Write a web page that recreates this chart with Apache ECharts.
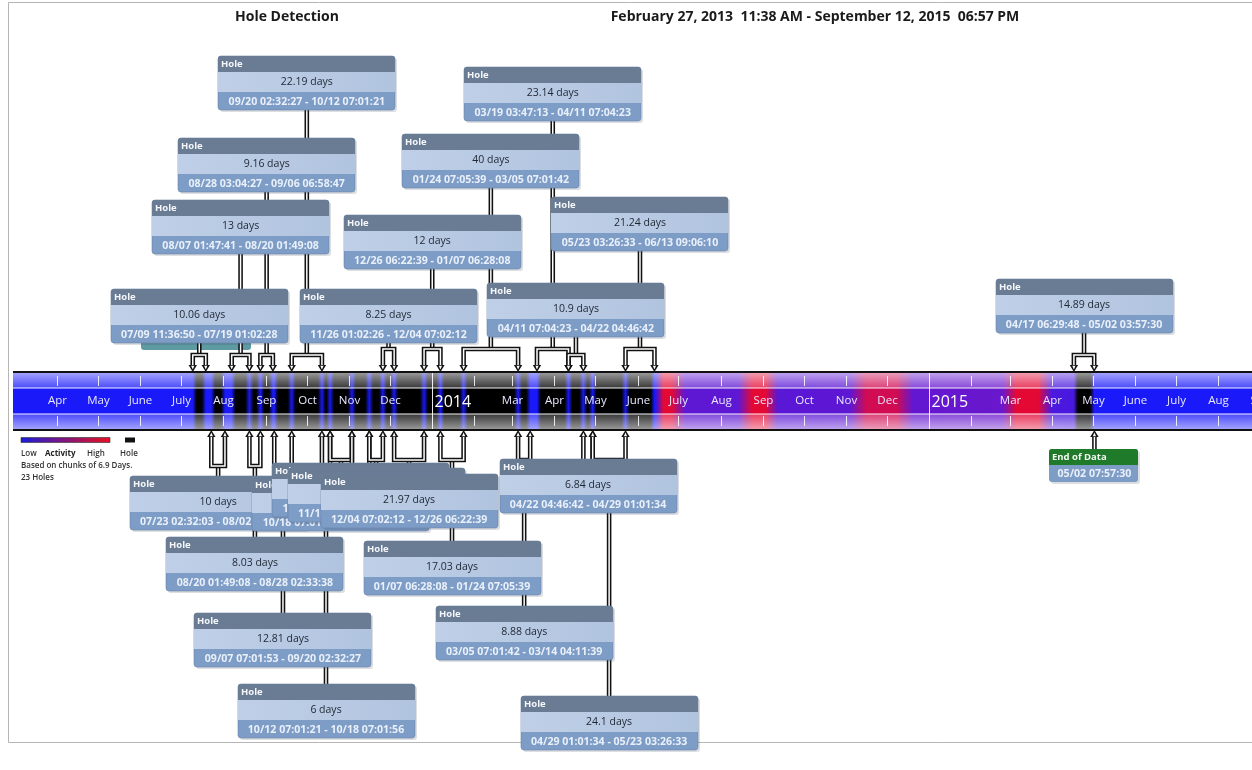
<!DOCTYPE html>
<html>
<head>
<meta charset="utf-8">
<script src="https://cdn.jsdelivr.net/npm/echarts@6/dist/echarts.min.js"></script>
<style>
  html, body { margin: 0; padding: 0; background: #fff; }
  #chart { width: 1252px; height: 770px; }
</style>
</head>
<body>
<div id="chart"></div>
<script>
// ---- data ----
var holeStart = [
  '2013-07-09 11:36:50', '2013-07-23 02:32:03', '2013-08-07 01:47:41', '2013-08-20 01:49:08',
  '2013-08-28 03:04:27', '2013-09-07 07:01:53', '2013-09-20 02:32:27', '2013-10-12 07:01:21',
  '2013-10-18 07:01:56', '2013-11-03 07:02:03', '2013-11-16 01:14:52', '2013-11-26 01:02:26',
  '2013-12-04 07:02:12', '2013-12-26 06:22:39', '2014-01-07 06:28:08', '2014-01-24 07:05:39',
  '2014-03-05 07:01:42', '2014-03-19 03:47:13', '2014-04-11 07:04:23', '2014-04-22 04:46:42',
  '2014-04-29 01:01:34', '2014-05-23 03:26:33', '2015-04-17 06:29:48'
];
var holeEnd = [
  '2013-07-19 01:02:28', '2013-08-02 02:32:03', '2013-08-20 01:49:08', '2013-08-28 02:33:38',
  '2013-09-06 06:58:47', '2013-09-20 02:32:27', '2013-10-12 07:01:21', '2013-10-18 07:01:56',
  '2013-11-03 07:02:03', '2013-11-16 01:14:52', '2013-11-26 01:02:26', '2013-12-04 07:02:12',
  '2013-12-26 06:22:39', '2014-01-07 06:28:08', '2014-01-24 07:05:39', '2014-03-05 07:01:42',
  '2014-03-14 04:11:39', '2014-04-11 07:04:23', '2014-04-22 04:46:42', '2014-04-29 01:01:34',
  '2014-05-23 03:26:33', '2014-06-13 09:06:10', '2015-05-02 03:57:30'
];
var holeDays = [
  '10.06', '10', '13', '8.03', '9.16', '12.81', '22.19', '6',
  '16', '12.76', '9.99', '8.25', '21.97', '12', '17.03', '40',
  '8.88', '23.14', '10.9', '6.84', '24.1', '21.24', '14.89'
];
var holeSide = [
  'up', 'down', 'up', 'down', 'up', 'down', 'up', 'down',
  'down', 'down', 'down', 'up', 'down', 'up', 'down', 'up',
  'down', 'up', 'up', 'down', 'down', 'up', 'up'
];
var endOfData = '2015-05-02 07:57:30';

var activityDate = [
  '2013-03-01', '2014-06-14', '2014-06-20', '2014-06-26', '2014-07-06', '2014-08-14',
  '2014-08-24', '2014-09-03', '2014-09-12', '2014-11-04', '2014-11-16', '2014-12-08',
  '2014-12-20', '2015-02-24', '2015-03-06', '2015-03-22', '2015-04-01', '2015-04-24',
  '2015-05-04', '2015-08-26'
];
var activityLevel = [
  0, 0, 0.95, 0.95, 0.3, 0.3,
  0.95, 0.95, 0.28, 0.3, 0.85, 0.85,
  0.32, 0.35, 0.95, 0.95, 0.22, 0.2,
  0, 0
];

var monthTicks = [
  '2013-04-01', '2013-05-01', '2013-06-01', '2013-07-01', '2013-08-01', '2013-09-01',
  '2013-10-01', '2013-11-01', '2013-12-01', '2014-01-01', '2014-02-01', '2014-03-01',
  '2014-04-01', '2014-05-01', '2014-06-01', '2014-07-01', '2014-08-01', '2014-09-01',
  '2014-10-01', '2014-11-01', '2014-12-01', '2015-01-01', '2015-02-01', '2015-03-01',
  '2015-04-01', '2015-05-01', '2015-06-01', '2015-07-01', '2015-08-01', '2015-09-01'
];
var monthLabels = [
  'Apr', 'May', 'June', 'July', 'Aug', 'Sep',
  'Oct', 'Nov', 'Dec', '2014', '', 'Mar',
  'Apr', 'May', 'June', 'July', 'Aug', 'Sep',
  'Oct', 'Nov', 'Dec', '2015', '', 'Mar',
  'Apr', 'May', 'June', 'July', 'Aug', 'Sep'
];

// ---- layout (pixel rows for the callout boxes) ----
var boxTop = [
  289, 476, 200, 537, 138, 613, 56, 684,
  477, 463, 468, 289, 474, 215, 541, 134,
  606, 67, 283, 459, 696, 197, 279
];

var axisMin = '2013-03-01', axisMax = '2015-08-26';

function ts(s) {
  var p = s.split(/[- :]/);
  return new Date(+p[0], p[1] - 1, +p[2], +(p[3] || 0), +(p[4] || 0), +(p[5] || 0)).getTime();
}
function mmdd(s) { return s.slice(5, 7) + '/' + s.slice(8); }

var STRIP_T = 372, STRIP_B = 430, STRIP_L = 13, STRIP_R = 1252;
var BOX_W = 177, BOX_H = 54;
var FONT = '"Open Sans", "DejaVu Sans", sans-serif';

function levelColor(v) {
  var a = [25, 25, 250], m = [140, 22, 185], b = [238, 8, 38];
  var c = v < 0.5 ? [a, m, v / 0.5] : [m, b, (v - 0.5) / 0.5];
  var r = c[0].map(function (x, k) { return Math.round(x + (c[1][k] - x) * c[2]); });
  return 'rgb(' + r.join(',') + ')';
}

function txt(x, y, text, font, fill, align) {
  return {
    type: 'text',
    style: { x: x, y: y, text: text, font: font, fill: fill,
      align: align || 'center', textAlign: align || 'center',
      verticalAlign: 'middle', textVerticalAlign: 'middle' }
  };
}

function holeBox(cx, top, days, range) {
  var l = Math.round(cx - BOX_W / 2);
  return [
    { type: 'rect', shape: { x: l + 2, y: top + 2, width: BOX_W, height: BOX_H, r: 3 },
      style: { fill: 'rgba(60,70,90,0.18)' } },
    { type: 'rect', shape: { x: l, y: top, width: BOX_W, height: BOX_H, r: 3 },
      style: { fill: '#7d9cc6', stroke: '#6a84a8', lineWidth: 0.6 } },
    { type: 'rect', shape: { x: l, y: top, width: BOX_W, height: 16, r: [3, 3, 0, 0] },
      style: { fill: '#6a7c94' } },
    { type: 'rect', shape: { x: l, y: top + 16, width: BOX_W, height: 20 },
      style: { fill: new echarts.graphic.LinearGradient(0, 0, 1, 0, [
        { offset: 0, color: '#bfcfe7' }, { offset: 1, color: '#b1c4df' }]) } },
    txt(l + 3, top + 8, 'Hole', 'bold 9.5px ' + FONT, '#f4f6fa', 'left'),
    txt(cx, top + 26.5, days + ' days', '10.5px ' + FONT, '#1e2632'),
    txt(cx, top + 45.5, range, 'bold 10.6px ' + FONT, '#e9f0fa')
  ];
}

function arrow(x, y, dir) {
  // dir = 1 points down (tip at y), -1 points up
  var b = y - dir * 7;
  return [
    { type: 'polygon', shape: { points: [[x - 4.2, b], [x + 4.2, b], [x, y]] }, style: { fill: '#111' } },
    { type: 'polygon', shape: { points: [[x - 1.6, b + dir * 0.8], [x + 1.6, b + dir * 0.8], [x, y - dir * 2.4]] },
      style: { fill: '#fff' } }
  ];
}

function dblLine(points) {
  return [
    { type: 'polyline', shape: { points: points }, style: { stroke: '#111', lineWidth: 4.6, fill: null, lineJoin: 'miter' } },
    { type: 'polyline', shape: { points: points }, style: { stroke: '#fff', lineWidth: 1.5, fill: null, lineJoin: 'miter' } }
  ];
}

var holeData = holeStart.map(function (s, i) { return [ts(s), ts(holeEnd[i]), i]; });

var chart = echarts.init(document.getElementById('chart'));

var option = {
  animation: false,
  grid: { left: 15, right: 0, top: 0, bottom: 0 },
  xAxis: { type: 'time', min: ts(axisMin), max: ts(axisMax), show: false },
  yAxis: { type: 'value', min: 0, max: 1, show: false },
  graphic: [
    { type: 'rect', shape: { x: 8.5, y: 2.5, width: 1260, height: 740 },
      style: { fill: null, stroke: '#b5b5b5', lineWidth: 1 } },
    { type: 'text', x: 287, y: 17, style: { text: 'Hole Detection', font: 'bold 14px ' + FONT,
      fill: '#1a1a1a', align: 'center', verticalAlign: 'middle' } },
    { type: 'text', x: 815, y: 17, style: { text: 'February 27, 2013  11:38 AM - September 12, 2015  06:57 PM',
      font: 'bold 14px ' + FONT, fill: '#1a1a1a', align: 'center', verticalAlign: 'middle' } },
    // hidden marker box behind the first callout
    { type: 'rect', shape: { x: 141, y: 324, width: 110, height: 26, r: 3 },
      style: { fill: '#5d9aa2' } },
    // legend
    { type: 'rect', shape: { x: 21, y: 437.5, width: 89, height: 5 },
      style: { fill: new echarts.graphic.LinearGradient(0, 0, 1, 0, [
        { offset: 0, color: '#1c1cd8' }, { offset: 1, color: '#e8101e' }]), stroke: '#333', lineWidth: 0.6 } },
    { type: 'rect', shape: { x: 125, y: 437.5, width: 10, height: 5 }, style: { fill: '#111' } },
    { type: 'text', x: 21, y: 454, style: { text: 'Low', font: '600 8px ' + FONT, fill: '#333', verticalAlign: 'middle' } },
    { type: 'text', x: 45, y: 454, style: { text: 'Activity', font: 'bold 8px ' + FONT, fill: '#222', verticalAlign: 'middle' } },
    { type: 'text', x: 87, y: 454, style: { text: 'High', font: '600 8px ' + FONT, fill: '#333', verticalAlign: 'middle' } },
    { type: 'text', x: 120, y: 454, style: { text: 'Hole', font: '600 8px ' + FONT, fill: '#333', verticalAlign: 'middle' } },
    { type: 'text', x: 21, y: 466, style: { text: 'Based on chunks of 6.9 Days.', font: '600 8px ' + FONT, fill: '#333', verticalAlign: 'middle' } },
    { type: 'text', x: 21, y: 478, style: { text: '23 Holes', font: '600 8px ' + FONT, fill: '#333', verticalAlign: 'middle' } }
  ],
  series: [
    {
      // connectors from callouts to the strip
      type: 'custom', z: 2, silent: true,
      data: holeData,
      renderItem: function (params, api) {
        var i = api.value(2);
        var xs = api.coord([api.value(0), 0])[0];
        var xe = api.coord([api.value(1), 0])[0];
        var xm = (xs + xe) / 2;
        var kids = [];
        if (holeSide[i] === 'up') {
          var by = STRIP_T - 17 - (i % 2) * 6;
          kids = kids.concat(dblLine([[xm, boxTop[i] + BOX_H], [xm, by]]));
          kids = kids.concat(dblLine([[xs, STRIP_T - 6], [xs, by], [xe, by], [xe, STRIP_T - 6]]));
          kids = kids.concat(arrow(xs, STRIP_T, 1), arrow(xe, STRIP_T, 1));
        } else {
          var dy = STRIP_B + 30 + (i % 2) * 6;
          kids = kids.concat(dblLine([[xm, dy], [xm, boxTop[i]]]));
          kids = kids.concat(dblLine([[xs, STRIP_B + 6], [xs, dy], [xe, dy], [xe, STRIP_B + 6]]));
          kids = kids.concat(arrow(xs, STRIP_B, -1), arrow(xe, STRIP_B, -1));
        }
        return { type: 'group', children: kids };
      }
    },
    {
      // callout boxes
      type: 'custom', z: 3, silent: true,
      data: holeData,
      renderItem: function (params, api) {
        var i = api.value(2);
        var xs = api.coord([api.value(0), 0])[0];
        var xe = api.coord([api.value(1), 0])[0];
        return { type: 'group', children: holeBox((xs + xe) / 2, boxTop[i], holeDays[i],
          mmdd(holeStart[i]) + ' - ' + mmdd(holeEnd[i])) };
      }
    },
    {
      // end of data marker
      type: 'custom', z: 3, silent: true,
      data: [[ts(endOfData), 0]],
      renderItem: function (params, api) {
        var x = api.coord([api.value(0), 0])[0];
        var l = Math.round(x - 45), t = 449;
        var kids = dblLine([[x, STRIP_B + 6], [x, t]]).concat(arrow(x, STRIP_B, -1));
        kids.push(
          { type: 'rect', shape: { x: l + 2, y: t + 2, width: 89, height: 33, r: 3 }, style: { fill: 'rgba(60,70,90,0.18)' } },
          { type: 'rect', shape: { x: l, y: t, width: 89, height: 33, r: 3 }, style: { fill: '#7d9cc6' } },
          { type: 'rect', shape: { x: l, y: t, width: 89, height: 16, r: [3, 3, 0, 0] }, style: { fill: '#1f7a2a' } },
          txt(l + 3, t + 8, 'End of Data', 'bold 9.5px ' + FONT, '#f4f8f4', 'left'),
          txt(x, t + 24.5, mmdd(endOfData), 'bold 10.6px ' + FONT, '#e9f0fa')
        );
        return { type: 'group', children: kids };
      }
    },
    {
      // activity strip with holes
      type: 'custom', z: 4, silent: true,
      data: [[ts(axisMin), 0]],
      renderItem: function (params, api) {
        var W = STRIP_R - STRIP_L, Hh = STRIP_B - STRIP_T;
        var stops = activityDate.map(function (d, k) {
          var off = (api.coord([ts(d), 0])[0] - STRIP_L) / W;
          return { offset: Math.max(0, Math.min(1, off)), color: levelColor(activityLevel[k]) };
        });
        var kids = [
          { type: 'rect', shape: { x: STRIP_L, y: STRIP_T, width: W, height: Hh },
            style: { fill: new echarts.graphic.LinearGradient(0, 0, 1, 0, stops) } }
        ];
        // holes fade in from each edge so that adjoining holes keep a thin activity seam
        holeData.forEach(function (h) {
          var xs = api.coord([h[0], 0])[0], xe = api.coord([h[1], 0])[0];
          var w = xe - xs, f = Math.min(0.45, 4 / w);
          kids.push({ type: 'rect', shape: { x: xs, y: STRIP_T, width: w, height: Hh },
            style: { fill: new echarts.graphic.LinearGradient(0, 0, 1, 0, [
              { offset: 0, color: 'rgba(0,0,0,0.05)' }, { offset: f, color: 'rgba(0,0,0,1)' },
              { offset: 1 - f, color: 'rgba(0,0,0,1)' }, { offset: 1, color: 'rgba(0,0,0,0.05)' }]) } });
        });
        // lighter outer bands
        kids.push(
          { type: 'rect', shape: { x: STRIP_L, y: STRIP_T, width: W, height: 16 },
            style: { fill: new echarts.graphic.LinearGradient(0, 0, 0, 1, [
              { offset: 0, color: 'rgba(255,255,255,0.62)' }, { offset: 1, color: 'rgba(255,255,255,0.22)' }]) } },
          { type: 'rect', shape: { x: STRIP_L, y: 414, width: W, height: 16 },
            style: { fill: new echarts.graphic.LinearGradient(0, 0, 0, 1, [
              { offset: 0, color: 'rgba(255,255,255,0.22)' }, { offset: 1, color: 'rgba(255,255,255,0.62)' }]) } },
          { type: 'line', shape: { x1: STRIP_L, y1: 388, x2: STRIP_R, y2: 388 }, style: { stroke: 'rgba(255,255,255,0.95)', lineWidth: 1.2 } },
          { type: 'line', shape: { x1: STRIP_L, y1: 414, x2: STRIP_R, y2: 414 }, style: { stroke: 'rgba(255,255,255,0.95)', lineWidth: 1.2 } }
        );
        monthTicks.forEach(function (m, k) {
          var x = Math.round(api.coord([ts(m), 0])[0]) + 0.5;
          var lab = monthLabels[k];
          if (/^\d{4}$/.test(lab)) {
            kids.push({ type: 'line', shape: { x1: x, y1: STRIP_T, x2: x, y2: STRIP_B },
              style: { stroke: 'rgba(255,255,255,0.9)', lineWidth: 1 } });
            kids.push(txt(x + 2, 402, lab, '16px ' + FONT, '#ffffff', 'left'));
          } else {
            kids.push({ type: 'line', shape: { x1: x, y1: 376, x2: x, y2: 386 }, style: { stroke: 'rgba(255,255,255,0.85)', lineWidth: 1 } });
            kids.push({ type: 'line', shape: { x1: x, y1: 416, x2: x, y2: 426 }, style: { stroke: 'rgba(255,255,255,0.85)', lineWidth: 1 } });
            if (lab) kids.push(txt(x, 401, lab, '11.5px ' + FONT, '#e8e8ff'));
          }
        });
        kids.push(
          { type: 'line', shape: { x1: STRIP_L, y1: STRIP_T, x2: STRIP_R, y2: STRIP_T }, style: { stroke: '#111', lineWidth: 2 } },
          { type: 'line', shape: { x1: STRIP_L, y1: STRIP_B, x2: STRIP_R, y2: STRIP_B }, style: { stroke: '#111', lineWidth: 2 } }
        );
        return { type: 'group', children: kids };
      }
    }
  ]
};
chart.setOption(option);
</script>
</body>
</html>
